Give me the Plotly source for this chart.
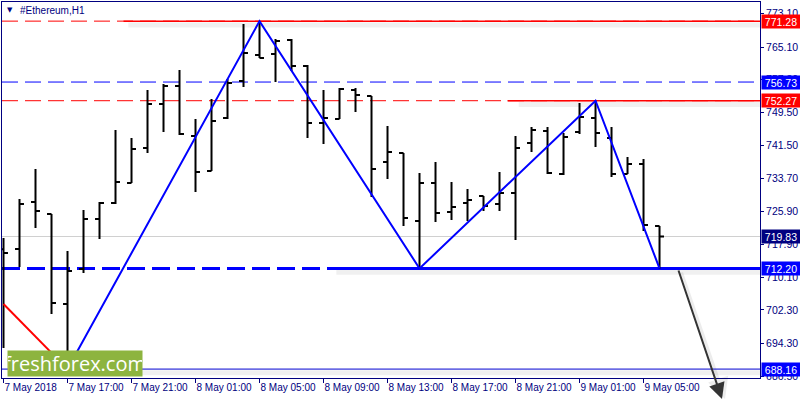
import pandas as pd
import plotly.graph_objects as go

# ---------------- data ----------------
start_time = "2018-05-07 13:00"
bar_open = [716.80, 716.84, 728.07, 725.21, 703.70, 712.07, 724.01, 727.83, 732.61, 740.97,
            751.48, 755.78, 743.84, 735.48, 748.14, 756.98, 763.19, 763.43, 766.77, 760.56,
            746.94, 747.90, 754.83, 753.39, 737.63, 739.78, 723.53, 732.61, 725.68, 727.83,
            729.51, 727.59, 730.22, 742.17, 745.03, 734.76, 744.79, 748.14, 743.36, 734.76,
            737.15, 722.34]
bar_high = [719.47, 728.79, 735.95, 725.21, 716.37, 726.16, 728.07, 745.27, 743.36, 754.83,
            756.26, 759.61, 747.90, 752.68, 757.46, 770.59, 771.28, 767.01, 767.01, 760.80,
            754.83, 755.31, 755.31, 753.39, 746.23, 739.78, 735.00, 737.63, 732.85, 731.18,
            729.51, 735.24, 743.84, 745.99, 745.99, 744.56, 751.72, 752.27, 745.99, 738.82,
            738.34, 722.34]
bar_low = [693.20, 712.54, 721.86, 701.32, 688.16, 711.11, 719.23, 727.59, 732.61, 739.78,
           744.79, 744.08, 730.46, 735.48, 747.90, 755.54, 762.47, 756.74, 759.37, 743.36,
           741.93, 747.90, 749.57, 729.27, 733.57, 722.34, 712.20, 723.29, 723.77, 723.53,
           725.92, 725.92, 718.99, 740.02, 734.76, 734.52, 744.32, 741.21, 734.04, 734.76,
           721.14, 712.20]
bar_close = [715.89, 727.59, 725.92, 703.94, 711.59, 724.01, 727.83, 732.85, 740.73, 751.48,
             755.78, 744.32, 735.24, 747.42, 756.50, 763.67, 762.47, 766.53, 760.56, 746.94,
             748.14, 755.07, 753.63, 735.96, 740.02, 724.25, 732.61, 725.44, 726.88, 728.55,
             727.12, 730.22, 740.97, 745.27, 735.00, 743.60, 748.38, 744.56, 734.76, 737.15,
             722.58, 719.83]

# zigzag (blue) and older trend segment (red)
zz_times = ["2018-05-07 17:00", "2018-05-08 05:00", "2018-05-08 15:00",
            "2018-05-09 02:00", "2018-05-09 06:00"]
zz_prices = [688.16, 771.28, 712.20, 752.27, 712.20]
red_times = ["2018-05-07 13:00", "2018-05-07 17:00"]
red_prices = [703.70, 688.16]

# horizontal levels
lvl_top = 771.28
lvl_blue_thin = 756.73
lvl_red2 = 752.27
lvl_last = 719.83
lvl_neck = 712.20
lvl_low = 688.16

# y tick labels
y_ticks = [773.10, 765.10, 757.30, 749.50, 741.50, 733.70, 725.90, 717.90,
           710.10, 702.30, 694.30, 686.50]
# x tick labels
x_tick_times = ["2018-05-07 13:00", "2018-05-07 17:00", "2018-05-07 21:00",
                "2018-05-08 01:00", "2018-05-08 05:00", "2018-05-08 09:00",
                "2018-05-08 13:00", "2018-05-08 17:00", "2018-05-08 21:00",
                "2018-05-09 01:00", "2018-05-09 05:00"]
x_tick_text = ["7 May 2018", "7 May 17:00", "7 May 21:00", "8 May 01:00",
               "8 May 05:00", "8 May 09:00", "8 May 13:00", "8 May 17:00",
               "8 May 21:00", "9 May 01:00", "9 May 05:00"]

# ---------------- figure ----------------
times = pd.date_range(start_time, periods=len(bar_open), freq="h")
t0 = pd.Timestamp(start_time)
hour = pd.Timedelta(hours=1)
x_range = [t0 - 0.094 * hour, t0 + 47.28 * hour]
y_range = [686.03, 775.85]

NAVY = "#000080"
FONT = "Liberation Sans"

fig = go.Figure()

fig.add_trace(go.Ohlc(
    x=times, open=bar_open, high=bar_high, low=bar_low, close=bar_close,
    increasing=dict(line=dict(color="black", width=2)),
    decreasing=dict(line=dict(color="black", width=2)),
    tickwidth=0.28, hoverinfo="skip", showlegend=False,
))

fig.add_trace(go.Scatter(x=red_times, y=red_prices, mode="lines",
                         line=dict(color="#ff0000", width=2),
                         hoverinfo="skip", showlegend=False))
fig.add_trace(go.Scatter(x=zz_times, y=zz_prices, mode="lines",
                         line=dict(color="#0000ff", width=2),
                         hoverinfo="skip", showlegend=False))

shapes = []
DASH = "16px,7px"
SH = 0.9  # shadow offset in price units (~4px)
shadow = "rgba(0,0,0,0.06)"

def hline(y, color, width, dash=None, layer="below"):
    shapes.append(dict(type="line", xref="paper", x0=0, x1=1, yref="y", y0=y, y1=y,
                       line=dict(color=color, width=width, dash=dash), layer=layer))

def seg(x0, y, color, width, layer="below"):
    shapes.append(dict(type="line", xref="x", x0=x0, x1=x_range[1], yref="y", y0=y, y1=y,
                       line=dict(color=color, width=width), layer=layer))

# soft shadows
seg(t0 + 7.8 * hour, lvl_top - SH, shadow, 5)
seg(t0 + 32.2 * hour, lvl_red2 - SH, shadow, 5)
seg(t0 + 20.8 * hour, lvl_neck - SH, shadow, 5)
seg(t0 + 8.0 * hour, lvl_low - SH, shadow, 5)

hline(lvl_last, "#d0d0d0", 1)
hline(lvl_top, "#ff0000", 1, DASH)
hline(lvl_blue_thin, "#0000ff", 1, DASH)
hline(lvl_red2, "#ff0000", 1, DASH)
hline(lvl_neck, "#0000ff", 3, "18px,7px")
hline(lvl_low, "#0000d0", 1)

seg(t0 + 7.5 * hour, lvl_top, "#ff0000", 1.5)
seg(t0 + 31.5 * hour, lvl_red2, "#ff0000", 1.5)
seg(t0 + 20.6 * hour, lvl_neck, "#0000ff", 3)

annotations = []

# price labels on the right axis
for lv, bg in [(lvl_top, "#ff0000"), (lvl_blue_thin, "#0000ff"), (lvl_red2, "#ff0000"),
               (lvl_last, "#000080"), (lvl_neck, "#0000ff"), (lvl_low, "#0000ff")]:
    annotations.append(dict(
        xref="paper", x=1, xanchor="left", xshift=1,
        yref="y", y=lv, yanchor="middle",
        text=f"{lv:.2f}", showarrow=False, bgcolor=bg,
        font=dict(family=FONT, size=10.5, color="white"),
        width=38, height=13, borderpad=0, align="center"))

# title
annotations.append(dict(xref="paper", yref="paper", x=(10 - 2) / 758, y=(378 - 10) / 376,
                        xanchor="center", yanchor="middle", text="▼", showarrow=False,
                        font=dict(family="DejaVu Sans", size=7, color=NAVY)))
annotations.append(dict(xref="paper", yref="paper", x=(18 - 2) / 758, y=(378 - 10) / 376,
                        xanchor="left", yanchor="middle", text="#Ethereum,H1", showarrow=False,
                        font=dict(family=FONT, size=10, color=NAVY)))

# arrow (projection) with faint shadow
tip_x, tip_y = (722 - 2) / 758, (378 - 403) / 376
annotations.append(dict(xref="paper", yref="paper", x=tip_x + 3 / 758, y=tip_y - 2 / 376,
                        ax=-44, ay=-134, axref="pixel", ayref="pixel", text="",
                        showarrow=True, arrowhead=2, arrowsize=1.4, arrowwidth=3,
                        arrowcolor="rgba(0,0,0,0.07)", standoff=0))
annotations.append(dict(xref="paper", yref="paper", x=tip_x, y=tip_y,
                        ax=-44, ay=-134, axref="pixel", ayref="pixel", text="",
                        showarrow=True, arrowhead=2, arrowsize=1.6, arrowwidth=2,
                        arrowcolor="#333333", standoff=0))

# logo
annotations.append(dict(xref="paper", yref="paper", x=(7 - 2) / 758, y=(378 - 377) / 376,
                        xanchor="left", yanchor="bottom", text="freshforex.com",
                        showarrow=False, bgcolor="#8db43f", width=134, height=25,
                        borderpad=0, align="center",
                        font=dict(family="Open Sans", size=20, color="white")))

fig.update_layout(
    width=800, height=400, autosize=False,
    margin=dict(l=2, r=40, t=2, b=22, pad=0),
    paper_bgcolor="white", plot_bgcolor="white",
    showlegend=False, hovermode=False,
    shapes=shapes, annotations=annotations,
    xaxis=dict(type="date", range=x_range, rangeslider=dict(visible=False),
               showgrid=False, zeroline=False, automargin=False,
               showline=True, mirror=True, linecolor=NAVY, linewidth=1,
               ticks="outside", ticklen=4, tickcolor=NAVY, tickangle=0,
               tickvals=x_tick_times, ticktext=x_tick_text,
               ticklabelposition="outside right",
               tickfont=dict(family=FONT, size=10, color=NAVY)),
    yaxis=dict(range=y_range, side="right", showgrid=False, zeroline=False,
               automargin=False, showline=True, mirror=True, linecolor=NAVY,
               linewidth=1, ticks="outside", ticklen=3, tickcolor=NAVY,
               tickvals=y_ticks, ticktext=[f"{v:.2f}" for v in y_ticks],
               tickfont=dict(family=FONT, size=10.5, color=NAVY)),
)

fig.write_html("out.html", config={"displayModeBar": False},
               post_script="document.body.style.margin='0';document.body.style.overflow='hidden';")
